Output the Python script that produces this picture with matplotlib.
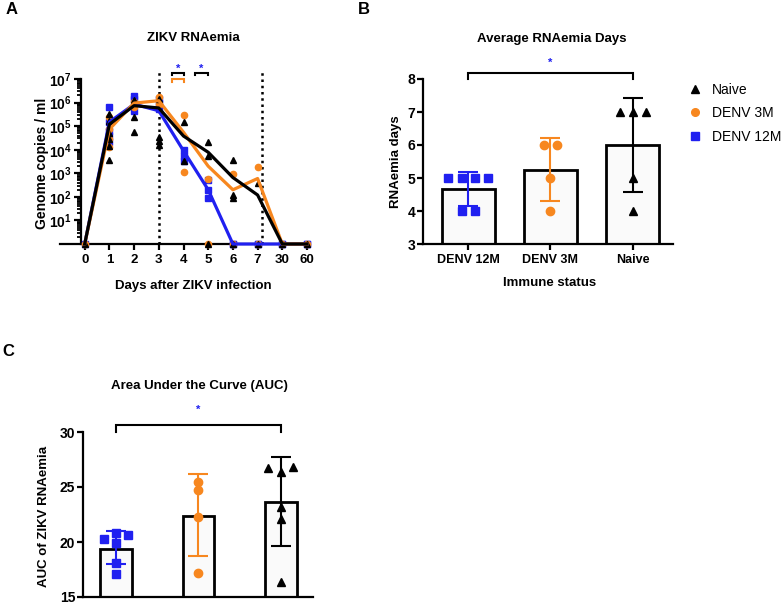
import matplotlib
matplotlib.use("Agg")
import matplotlib.pyplot as plt
import matplotlib.ticker as mticker
from matplotlib.lines import Line2D
import numpy as np

plt.rcParams["font.family"] = ["Liberation Sans", "DejaVu Sans"]
plt.rcParams["font.weight"] = "bold"
plt.rcParams["mathtext.fontset"] = "custom"
plt.rcParams["mathtext.rm"] = "Liberation Sans:bold"
plt.rcParams["mathtext.bf"] = "Liberation Sans:bold"
plt.rcParams["axes.linewidth"] = 1.6

BLUE = "#2020f0"
ORANGE = "#f7871f"
BLACK = "#000000"

groups = ["DENV 12M", "DENV 3M", "Naive"]

# ---- panel A: ZIKV RNAemia (genome copies / ml), 0 = undetected
day_labels = ["0", "1", "2", "3", "4", "5", "6", "7", "30", "60"]
mean_12m = [0, 1.5e5, 8.5e5, 4.5e5, 9.0e3, 2.0e2, 0, 0, 0, 0]
mean_3m = [0, 7.4e4, 9.5e5, 1.2e6, 5.5e4, 2.0e3, 2.0e2, 6.0e2, 0, 0]
mean_naive = [0, 1.2e5, 7.4e5, 5.9e5, 3.8e4, 7.8e3, 6.6e2, 1.2e2, 0, 0]

pts_12m = [[0], [6.3e5, 1.5e5, 6.2e4, 3.7e4, 2.1e4], [1.9e6, 1.4e6, 4.4e5],
           [1.4e6, 5.4e5, 1.0e6], [1.0e4, 5.4e3, 3.3e3], [2.0e2, 9.3e1, 5.0e2],
           [0, 0], [0, 0], [0, 0], [0, 0]]
pts_3m = [[0], [2.4e5, 7.4e4, 2.8e4, 1.3e4], [1.1e6, 6.3e5], [1.7e6, 8.7e5],
          [3.0e5, 1.1e3], [6.0e2, 0], [8.9e2, 0], [1.9e3, 0], [0], [0]]
pts_naive = [[0], [3.2e5, 1.6e5, 5.0e4, 2.8e4, 1.4e4, 3.5e3],
             [1.3e6, 2.4e5, 5.5e4], [1.4e6, 3.4e4, 2.3e4, 1.6e4],
             [1.5e5, 3.3e3], [2.1e4, 5.4e3, 0], [3.5e3, 1.2e2, 9.3e1, 0],
             [4.0e2, 0], [0], [0]]

# ---- panel B: average RNAemia days
days_12m = [5, 5, 5, 5, 4, 4]
days_3m = [6, 6, 5, 4]
days_naive = [7, 7, 7, 5, 4]
days_mean = [4.67, 5.25, 6.0]
days_err_lo = [4.15, 4.3, 4.58]
days_err_hi = [5.18, 6.2, 7.42]

# ---- panel C: AUC of ZIKV RNAemia
auc_12m = [20.8, 20.6, 19.9, 20.3, 18.1, 17.1]
auc_3m = [25.5, 24.7, 22.3, 17.2]
auc_naive = [26.7, 26.4, 26.8, 23.2, 22.1, 16.4]
auc_mean = [19.4, 22.4, 23.6]
auc_err_lo = [18.0, 18.7, 19.6]
auc_err_hi = [21.0, 26.2, 27.7]

colors = [BLUE, ORANGE, BLACK]
markers = ["s", "o", "^"]

W, H = 781, 604
fig = plt.figure(figsize=(W / 100, H / 100), dpi=100)


def px_axes(l, t, r, b):
    return fig.add_axes([l / W, 1 - b / H, (r - l) / W, (b - t) / H])


def ftext(x, y, s, **kw):
    fig.text(x / W, 1 - y / H, s, **kw)


def swarm(vals, d, tol):
    # greedy beeswarm: try centre, then left/right steps
    order = np.argsort(vals)
    offs = np.zeros(len(vals))
    placed = []
    steps = [0, -1, 1, -2, 2, -3, 3]
    for i in order:
        for s in steps:
            if all(abs(vals[i] - vals[j]) >= tol or offs[j] != s * d for j in placed):
                offs[i] = s * d
                break
        placed.append(i)
    # centre runs of identical values
    for v in set(vals):
        idx = [k for k in range(len(vals)) if vals[k] == v]
        if len(idx) > 1:
            offs[idx] -= offs[idx].mean()
    return offs


# ================= A =================
axA = px_axes(60, 79, 307, 244)
x_days = np.arange(len(day_labels))
floor = 1.0
for pts, col, mk, ms in [(pts_12m, BLUE, "s", 4.5), (pts_3m, ORANGE, "o", 4.5),
                         (pts_naive, BLACK, "^", 3.8)]:
    for xi, vs in zip(x_days, pts):
        vv = [v if v > 0 else floor for v in vs]
        axA.plot([xi] * len(vv), vv, ls="none", marker=mk, ms=ms, color=col,
                 clip_on=False, zorder=3)
for means, col, z in [(mean_12m, BLUE, 4), (mean_3m, ORANGE, 5), (mean_naive, BLACK, 6)]:
    mv = [v if v > 0 else floor for v in means]
    axA.plot(x_days, mv, color=col, lw=2.3, clip_on=False, zorder=z)

axA.set_yscale("log")
axA.set_ylim(1, 1e7)
axA.set_xlim(-1, 9)
axA.spines["top"].set_visible(False)
axA.spines["right"].set_visible(False)
axA.spines["left"].set_position(("data", -0.16))
axA.set_xticks(x_days)
axA.set_xticklabels(day_labels, fontsize=9.5, fontweight="bold")
axA.yaxis.set_major_locator(mticker.FixedLocator([10 ** k for k in range(1, 8)]))
axA.yaxis.set_major_formatter(mticker.FuncFormatter(
    lambda v, p: r"$\mathbf{10^{%d}}$" % round(np.log10(v))))
axA.yaxis.set_minor_locator(mticker.LogLocator(base=10, subs=np.arange(2, 10), numticks=20))
axA.yaxis.set_minor_formatter(mticker.NullFormatter())
axA.tick_params(axis="y", which="major", length=5, width=1.6, labelsize=10, pad=1.5)
axA.tick_params(axis="y", which="minor", length=3, width=1.3)
axA.tick_params(axis="x", length=4, width=1.6, pad=3)

for xv in [3, 7.16]:
    axA.plot([xv, xv], [1, 10 ** 7.3], ls=(0, (1, 1.5)), color=BLACK, lw=1.8,
             clip_on=False, zorder=2)


def bracket(ax, x0, x1, ytop, yleg, col):
    ax.plot([x0, x0, x1, x1], [yleg, ytop, ytop, yleg], color=col, lw=1.5,
            clip_on=False, solid_joinstyle="miter")


bracket(axA, 3.55, 4.02, 10 ** 7.26, 10 ** 7.15, BLACK)
bracket(axA, 3.55, 4.02, 10 ** 6.98, 10 ** 6.88, ORANGE)
bracket(axA, 4.47, 4.99, 10 ** 7.26, 10 ** 7.15, BLACK)
for xs in [3.79, 4.72]:
    axA.text(xs, 10 ** 7.45, "*", color=BLUE, ha="center", va="center", fontsize=8)

# ================= B =================
axB = px_axes(423, 79, 673, 244)
xb = np.arange(3)
axB.bar(xb, [m - 3 for m in days_mean], bottom=3, width=0.64, color="#fafafa",
        edgecolor=BLACK, lw=2.0, zorder=1)
for i, (vals, col, mk) in enumerate(zip([days_12m, days_3m, days_naive], colors, markers)):
    offs = swarm(vals, 0.16, 0.3)
    axB.plot(i + offs, vals, ls="none", marker=mk, ms=6 if mk != "^" else 5.5,
             color=col, zorder=3, clip_on=False)
    axB.errorbar(i, days_mean[i], yerr=[[days_mean[i] - days_err_lo[i]],
                                        [days_err_hi[i] - days_mean[i]]],
                 color=col, lw=1.5, capsize=7, capthick=1.5, zorder=4)
axB.set_ylim(3, 8)
axB.set_xlim(-0.55, 2.49)
axB.spines["top"].set_visible(False)
axB.spines["right"].set_visible(False)
axB.set_xticks(xb)
axB.set_xticklabels(groups, fontsize=9, fontweight="bold")
axB.tick_params(axis="y", length=4, width=1.6, labelsize=10, pad=1.5)
axB.tick_params(axis="x", length=4, width=1.6)
bracket(axB, 0, 2, 8.19, 8.0, BLACK)
axB.text(1, 8.5, "*", color=BLUE, ha="center", va="center", fontsize=8)

handles = [Line2D([], [], ls="none", marker=m, color=c, ms=5.5)
           for m, c in [("^", BLACK), ("o", ORANGE), ("s", BLUE)]]
fig.legend(handles, ["Naive", "DENV 3M", "DENV 12M"], loc="upper left",
           bbox_to_anchor=(681 / W, 1 - 77 / H), frameon=False,
           prop={"size": 10, "weight": "normal"}, handletextpad=0.6,
           labelspacing=0.7, handlelength=1.2, borderaxespad=0)

# ================= C =================
axC = px_axes(83, 432, 313, 597)
axC.bar(xb, [m - 15 for m in auc_mean], bottom=15, width=0.38, color="#fafafa",
        edgecolor=BLACK, lw=2.0, zorder=1)
for i, (vals, col, mk) in enumerate(zip([auc_12m, auc_3m, auc_naive], colors, markers)):
    offs = swarm(vals, 0.15, 0.75)
    axC.plot(i + offs, vals, ls="none", marker=mk, ms=6 if mk != "^" else 5.5,
             color=col, zorder=3, clip_on=False)
    axC.errorbar(i, auc_mean[i], yerr=[[auc_mean[i] - auc_err_lo[i]],
                                       [auc_err_hi[i] - auc_mean[i]]],
                 color=col, lw=1.5, capsize=7, capthick=1.5, zorder=4)
axC.set_ylim(15, 30)
axC.set_xlim(-0.4, 2.39)
axC.set_yticks([15, 20, 25, 30])
axC.spines["top"].set_visible(False)
axC.spines["right"].set_visible(False)
axC.set_xticks([])
axC.tick_params(axis="y", length=4, width=1.6, labelsize=10, pad=1.5)
bracket(axC, 0, 2, 30.64, 30.0, BLACK)
axC.text(1, 32.0, "*", color=BLUE, ha="center", va="center", fontsize=8)

# ================= text =================
ftext(193, 38, "ZIKV RNAemia", ha="center", va="center", fontsize=9.5)
ftext(193, 286, "Days after ZIKV infection", ha="center", va="center", fontsize=9.5)
ftext(42, 163, "Genome copies / ml", ha="center", va="center", rotation=90, fontsize=10)
ftext(552, 39, "Average RNAemia Days", ha="center", va="center", fontsize=9.5)
ftext(550, 283, "Immune status", ha="center", va="center", fontsize=9.5)
ftext(396, 162, "RNAemia days", ha="center", va="center", rotation=90, fontsize=9.5)
ftext(199, 386, "Area Under the Curve (AUC)", ha="center", va="center", fontsize=9.5)
ftext(44, 516, "AUC of ZIKV RNAemia", ha="center", va="center", rotation=90, fontsize=9.5)
ftext(12, 10, "A", ha="center", va="center", fontsize=12)
ftext(364, 10, "B", ha="center", va="center", fontsize=12)
ftext(8, 352, "C", ha="center", va="center", fontsize=12)

fig.savefig("out.png", dpi=100)
